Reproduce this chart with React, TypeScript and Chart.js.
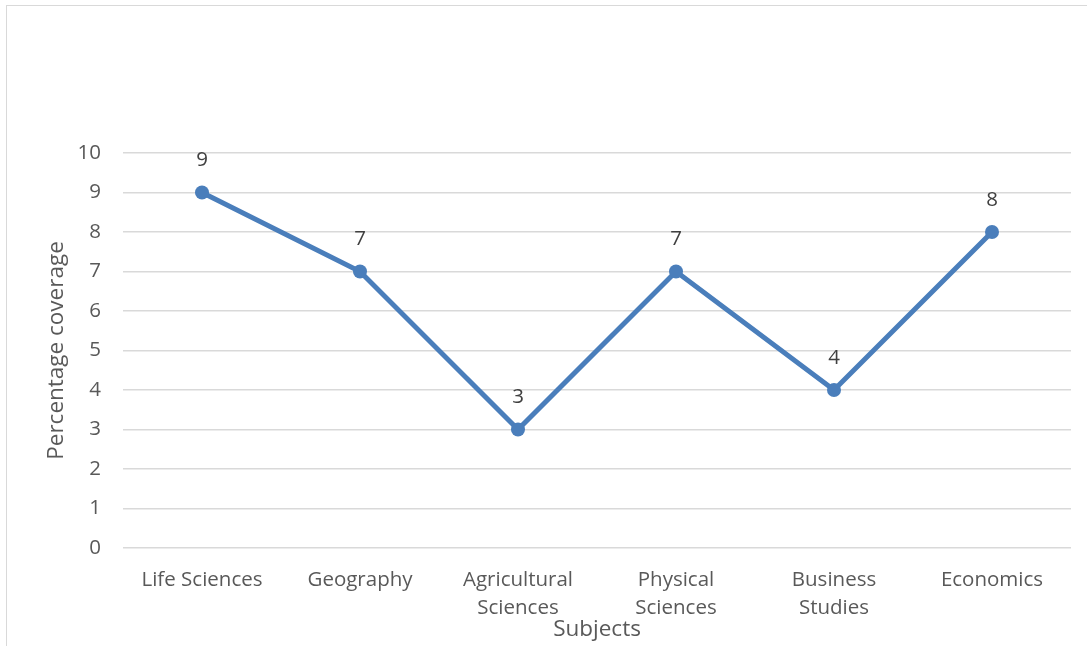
import React, { useEffect, useRef } from "react";
import { Chart, registerables } from "chart.js";

Chart.register(...registerables);

const categories: (string | string[])[] = [
  "Life Sciences",
  "Geography",
  ["Agricultural", "Sciences"],
  ["Physical", "Sciences"],
  ["Business", "Studies"],
  "Economics",
];
const coverage: number[] = [9, 7, 3, 7, 4, 8];
const yTicks: number[] = [0, 1, 2, 3, 4, 5, 6, 7, 8, 9, 10];
const yTitle = "Percentage coverage";
const xTitle = "Subjects";

const FONT = "'Open Sans', 'Liberation Sans', sans-serif";
const LINE_COLOR = "#4a7ebb";

const dataLabels = {
  id: "dataLabels",
  afterDatasetsDraw(chart: any) {
    const ctx = chart.ctx;
    const meta = chart.getDatasetMeta(0);
    ctx.save();
    ctx.fillStyle = "#404040";
    ctx.font = `20.5px ${FONT}`;
    ctx.textAlign = "center";
    ctx.textBaseline = "middle";
    meta.data.forEach((pt: any, i: number) => {
      ctx.fillText(String(coverage[i]), pt.x, pt.y - 32);
    });
    ctx.restore();
  },
};

export default function App() {
  const ref = useRef<HTMLCanvasElement | null>(null);
  useEffect(() => {
    if (!ref.current) return;
    const chart = new Chart(ref.current, {
      type: "line",
      data: {
        labels: categories,
        datasets: [
          {
            data: coverage,
            borderColor: LINE_COLOR,
            backgroundColor: LINE_COLOR,
            borderWidth: 5,
            pointRadius: 7,
            pointBorderWidth: 0,
            pointBackgroundColor: LINE_COLOR,
            tension: 0,
          },
        ],
      },
      options: {
        responsive: false,
        animation: false,
        layout: { padding: { top: 153, right: 16, left: 0, bottom: 0 } },
        plugins: {
          legend: { display: false },
          tooltip: { enabled: false },
        },
        scales: {
          x: {
            offset: true,
            grid: { display: false, drawTicks: false },
            border: { display: false },
            ticks: {
              color: "#595959",
              font: { family: FONT, size: 20.5, lineHeight: 1.366 },
              padding: 18,
              maxRotation: 0,
              autoSkip: false,
            },
            title: {
              display: true,
              text: xTitle,
              color: "#595959",
              font: { family: FONT, size: 22.5 },
              padding: { top: -12, bottom: 3 },
            },
            afterFit(scale: any) {
              scale.height = 98;
            },
          },
          y: {
            min: 0,
            max: 10,
            afterBuildTicks(scale: any) {
              scale.ticks = yTicks.map((v) => ({ value: v }));
            },
            grid: { color: "#d9d9d9", lineWidth: 1.5, drawTicks: false },
            border: { display: false },
            ticks: {
              color: "#595959",
              font: { family: FONT, size: 20.5 },
              padding: 22,
            },
            title: {
              display: true,
              text: yTitle,
              color: "#595959",
              font: { family: FONT, size: 22.5 },
              padding: { top: 43.5, bottom: 0 },
            },
            afterFit(scale: any) {
              scale.width = 123;
            },
          },
        },
      },
      plugins: [dataLabels],
    });
    return () => chart.destroy();
  }, []);

  return (
    <div
      style={{
        position: "absolute",
        left: 0,
        top: 0,
        width: 1087,
        height: 646,
        overflow: "hidden",
        background: "#fff",
      }}
    >
      <div
        style={{
          position: "absolute",
          left: 6,
          top: 5,
          width: 1200,
          height: 800,
          border: "1.5px solid #d9d9d9",
          boxSizing: "border-box",
        }}
      />
      <canvas
        ref={ref}
        width={1087}
        height={646}
        style={{ position: "absolute", left: 0, top: 0, width: 1087, height: 646 }}
      />
    </div>
  );
}
